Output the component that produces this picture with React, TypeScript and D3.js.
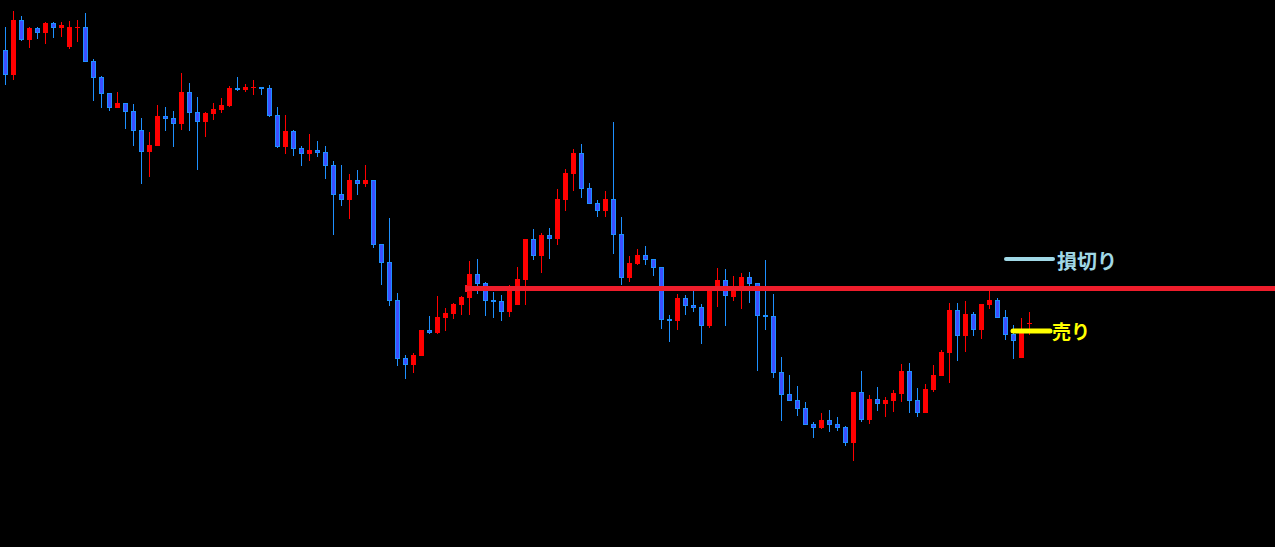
import React from "react";
import * as d3 from "d3";

const W = 1275;
const H = 547;

const opens = [550,525,580,560,572,567,577,572,553,572,573,539,523,507,492,497,489,470,448,454,484,482,476,508,488,478,486,490,494,512,510,512,513,512,485,453,469,452,446,450,448,435,406,400,420,416,420,356,338,300,242,235,244,270,267,282,286,295,302,326,317,300,299,288,295,320,361,344,365,361,400,426,447,412,397,389,401,366,322,336,345,341,333,281,279,302,295,293,274,312,320,303,312,323,317,285,284,228,206,200,192,176,172,180,176,173,157,208,180,201,196,199,206,229,200,187,210,224,247,290,264,286,270,295,300,283,266,242,276];
const highs = [573,589,584,573,573,578,578,578,579,580,587,541,524,507,508,497,496,482,468,495,493,489,527,517,503,488,497,502,514,523,516,520,513,515,493,485,470,454,466,459,454,439,435,426,430,435,420,356,382,307,245,247,270,284,304,292,297,304,339,341,318,308,305,315,333,361,371,367,372,411,431,451,456,417,400,409,478,383,344,351,354,341,333,285,306,305,310,296,312,332,331,324,327,328,317,340,306,243,225,214,198,178,187,190,183,174,208,229,205,213,203,210,236,237,212,216,235,250,297,297,299,288,296,309,302,290,275,282,288];
const lows = [515,520,559,552,561,556,562,563,551,558,538,499,492,489,492,471,454,416,423,454,469,453,470,469,430,463,480,487,493,509,508,505,505,483,452,446,444,434,439,443,421,365,394,381,405,413,352,315,294,234,221,227,244,266,266,269,281,285,285,306,284,282,279,283,295,295,340,327,341,355,389,409,402,396,383,383,346,315,318,335,335,324,271,258,270,285,288,256,272,293,274,299,291,297,229,270,222,179,199,184,175,162,171,168,169,154,139,178,176,189,183,188,198,187,183,187,208,224,217,239,248,264,261,291,282,260,241,242,265];
const closes = [525,580,560,572,567,577,572,575,573,573,538,522,506,492,497,488,469,448,455,484,481,476,508,487,478,487,491,495,512,510,513,513,511,484,453,469,451,446,450,447,434,405,400,420,416,420,355,337,299,241,235,245,270,267,283,287,296,303,326,316,299,298,288,310,321,361,344,365,361,401,427,447,411,396,389,401,365,322,337,345,340,332,280,279,302,294,292,274,312,320,304,311,323,316,284,283,227,205,199,191,175,172,180,175,172,157,208,180,201,196,200,207,229,199,187,211,225,248,290,264,286,270,296,300,282,265,259,269,277];

const stopLevel = 311.5;
const stopStartIndex = 57.5;
const legendItems = ["損切り", "売り"];

const UP = "#ff0000";
const DOWN_FILL = "#3c4fff";
const DOWN_EDGE = "#1e90ff";

export default function App() {
  const idx = d3.range(opens.length);
  const x = d3.scaleBand<number>().domain(idx).range([1, 1 + 8 * opens.length]).padding(0);
  const y = d3.scaleLinear().domain([600, 53]).range([0, H]);
  const cx = (i: number) => (x(i) as number) + x.bandwidth() / 2;
  const xLin = d3.scaleLinear().domain([0, 1]).range([cx(0), cx(1)]);

  return (
    <svg
      width={W}
      height={H}
      style={{ position: "fixed", left: 0, top: 0, background: "#000", display: "block" }}
    >
      <rect x={0} y={0} width={W} height={H} fill="#000" />
      {idx.map((i) => {
        const o = opens[i], c = closes[i], h = highs[i], l = lows[i];
        const up = c >= o;
        const c0 = cx(i);
        const yh = Math.round(y(h));
        const yl = Math.round(y(l));
        const yTop = Math.round(y(Math.max(o, c)));
        const yBot = Math.round(y(Math.min(o, c)));
        const bh = Math.max(1, yBot - yTop);
        if (up) {
          return (
            <g key={i}>
              <line x1={c0 + 0.5} x2={c0 + 0.5} y1={yh} y2={Math.max(yl, yh + 1)} stroke={UP} strokeWidth={1} />
              <rect x={c0 - 2} y={yTop} width={5} height={bh} fill={UP} />
            </g>
          );
        }
        return (
          <g key={i}>
            <line x1={c0 + 0.5} x2={c0 + 0.5} y1={yh} y2={Math.max(yl, yh + 1)} stroke={DOWN_EDGE} strokeWidth={1} />
            {bh > 2 ? (
              <rect x={c0 - 1.5} y={yTop + 0.5} width={4} height={bh - 1} fill={DOWN_FILL} stroke={DOWN_EDGE} strokeWidth={1} />
            ) : (
              <rect x={c0 - 2} y={yTop} width={5} height={bh} fill={DOWN_EDGE} />
            )}
          </g>
        );
      })}
      <line
        x1={xLin(stopStartIndex)}
        x2={W}
        y1={y(stopLevel)}
        y2={y(stopLevel)}
        stroke="#ee1d2b"
        strokeWidth={5}
      />
      <rect x={xLin(stopStartIndex)} y={y(stopLevel) - 3.5} width={2} height={7} fill="#ee1d2b" />
      <line x1={1006} x2={1053} y1={259} y2={259} stroke="#a0d8e6" strokeWidth={4} strokeLinecap="round" />
      <text
        x={1057}
        y={260}
        dominantBaseline="central"
        fill="#a0d8e6"
        fontFamily="'Noto Sans CJK JP', sans-serif"
        fontWeight="bold"
        fontSize={20}
      >
        {legendItems[0]}
      </text>
      <line x1={1013} x2={1050} y1={331} y2={331} stroke="#ffff00" strokeWidth={5} strokeLinecap="round" />
      <text
        x={1052}
        y={330}
        dominantBaseline="central"
        fill="#ffff00"
        fontFamily="'Noto Sans CJK JP', sans-serif"
        fontWeight="bold"
        fontSize={19}
      >
        {legendItems[1]}
      </text>
    </svg>
  );
}
